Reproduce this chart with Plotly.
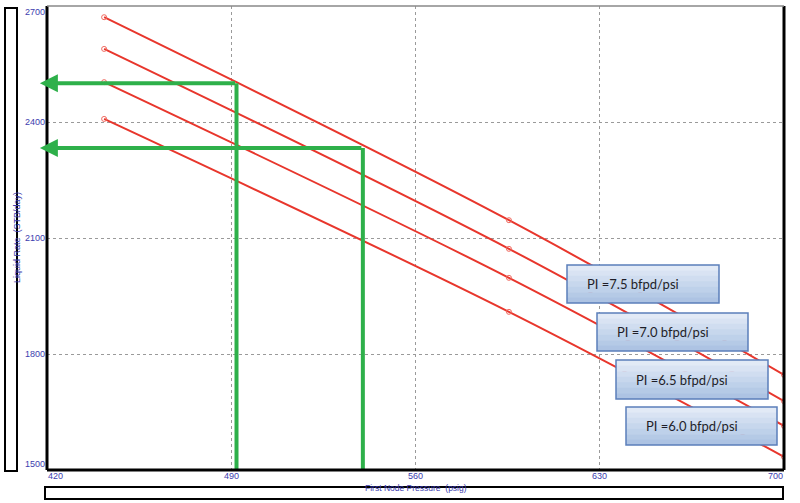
import plotly.graph_objects as go

# IPR curves (pressure psig / rate STB/day)
pressure = [441.7, 595.5, 700]
rate_pi75 = [2671, 2146, 1746]
rate_pi70 = [2589, 2072, 1678]
rate_pi65 = [2503, 1997, 1614]
rate_pi60 = [2408, 1909, 1534]
pi_labels = ['PI =7.5 bfpd/psi', 'PI =7.0 bfpd/psi', 'PI =6.5 bfpd/psi', 'PI =6.0 bfpd/psi']

# operating points marked with the green arrows
op_pressure = [492, 540]
op_rate = [2500, 2333]
arrow_tip = 417.3

x_ticks = [420, 490, 560, 630, 700]
y_ticks = [1500, 1800, 2100, 2400, 2700]

W, H = 800, 503
L, R, T, B = 47, 16, 6, 33
RED = '#e8362c'
GREEN = '#2eb04a'
BLUE_TXT = '#3c3cae'
TICK_FONT = dict(family='Liberation Sans', size=9, color=BLUE_TXT)


def px_x(px):
    return (px - L) / (W - L - R)


def px_y(py):
    return (H - B - py) / (H - T - B)


fig = go.Figure()

for rates in [rate_pi75, rate_pi70, rate_pi65, rate_pi60]:
    fig.add_trace(go.Scatter(
        x=pressure, y=rates,
        mode='lines+markers',
        line=dict(color=RED, width=2, shape='spline'),
        marker=dict(symbol='circle-open', size=5, color='#f06a60', line=dict(width=1)),
        showlegend=False,
    ))

# green verticals from the operating point down to the x axis
for p, q in zip(op_pressure, op_rate):
    fig.add_trace(go.Scatter(
        x=[p, p], y=[q, y_ticks[0]],
        mode='lines',
        line=dict(color=GREEN, width=4),
        showlegend=False,
    ))
    fig.add_annotation(
        x=arrow_tip, y=q, ax=p, ay=q,
        xref='x', yref='y', axref='x', ayref='y',
        text='', showarrow=True,
        arrowhead=2, arrowsize=0.9, arrowwidth=4, arrowcolor=GREEN,
    )

# text boxes with a faked vertical gradient
boxes = [(567, 719, 265, 303), (597, 748, 313, 351), (616, 768, 360, 399), (626, 777, 407, 445)]
grad = ['#e2eaf6', '#d9e3f3', '#d0ddf0', '#c7d7ed', '#bed1ea', '#b5cae6', '#adc3e3']
for (x0, x1, y0, y1), label in zip(boxes, pi_labels):
    n = len(grad)
    for i, c in enumerate(grad):
        ya = y0 + (y1 - y0) * i / n
        yb = y0 + (y1 - y0) * (i + 1) / n + 0.6
        fig.add_shape(type='rect', xref='paper', yref='paper',
                      x0=px_x(x0), x1=px_x(x1), y0=px_y(ya), y1=px_y(min(yb, y1)),
                      fillcolor=c, line=dict(width=0), layer='above')
    fig.add_shape(type='rect', xref='paper', yref='paper',
                  x0=px_x(x0), x1=px_x(x1), y0=px_y(y0), y1=px_y(y1),
                  line=dict(color='#5b7fba', width=1.5), layer='above')
    fig.add_annotation(
        xref='paper', yref='paper',
        x=px_x(x0 + 18), y=px_y((y0 + y1) / 2),
        xanchor='left', yanchor='middle',
        text=label, showarrow=False,
        font=dict(family='Lato', size=13, color='#1e1e28'),
    )

# tick labels: the end ones sit inside the axis span, as in the original
for i, v in enumerate(x_ticks):
    anchor = 'left' if i == 0 else ('right' if i == len(x_ticks) - 1 else 'center')
    fig.add_annotation(x=v, y=0, xref='x', yref='paper', text=str(v), showarrow=False,
                       xanchor=anchor, yanchor='top', yshift=0, borderpad=0, font=TICK_FONT)
for i, v in enumerate(y_ticks):
    anchor = 'bottom' if i == 0 else ('top' if i == len(y_ticks) - 1 else 'middle')
    fig.add_annotation(x=0, y=v, xref='paper', yref='y', text=str(v), showarrow=False,
                       xanchor='right', yanchor=anchor, xshift=-1, borderpad=0, font=TICK_FONT)

# frame of the plot area
fig.add_shape(type='line', xref='paper', yref='paper', x0=0, x1=0, y0=0, y1=1,
              line=dict(color='black', width=3), layer='above')
fig.add_shape(type='line', xref='paper', yref='paper', x0=0, x1=1, y0=0, y1=0,
              line=dict(color='black', width=3), layer='above')
fig.add_shape(type='line', xref='paper', yref='paper', x0=1, x1=1, y0=0, y1=1,
              line=dict(color='black', width=3), layer='above')
fig.add_shape(type='line', xref='paper', yref='paper', x0=0, x1=1, y0=1, y1=1,
              line=dict(color='#888888', width=1.5), layer='above')

# boxes that hold the axis titles
fig.add_shape(type='rect', xref='paper', yref='paper',
              x0=px_x(5), x1=px_x(17), y0=px_y(8), y1=px_y(471),
              line=dict(color='black', width=2))
fig.add_shape(type='rect', xref='paper', yref='paper',
              x0=px_x(45), x1=px_x(783), y0=px_y(487), y1=px_y(499),
              line=dict(color='black', width=2))
fig.add_annotation(xref='paper', yref='paper', x=px_x(11), y=0.5,
                   text='Liquid Rate  (STB/day)', textangle=-90, showarrow=False,
                   borderpad=0, font=dict(family='Liberation Sans', size=9, color=BLUE_TXT))
fig.add_annotation(xref='paper', yref='paper', x=0.5, y=px_y(494),
                   text='First Node Pressure  (psig)', showarrow=False,
                   borderpad=0, font=dict(family='Liberation Sans', size=8.5, color=BLUE_TXT))

axis_common = dict(
    showgrid=True, gridcolor='#9a9a9a', griddash='dot', gridwidth=1,
    zeroline=False, showline=False, ticks='', showticklabels=False,
)
fig.update_xaxes(range=[x_ticks[0], x_ticks[-1]], tickvals=x_ticks, **axis_common)
fig.update_yaxes(range=[y_ticks[0], y_ticks[-1]], tickvals=y_ticks, **axis_common)

fig.update_layout(
    width=W, height=H,
    margin=dict(l=L, r=R, t=T, b=B),
    plot_bgcolor='white', paper_bgcolor='white',
    showlegend=False,
)

fig.write_html('out.html', config={'displayModeBar': False},
               post_script="document.body.style.margin='0';")
